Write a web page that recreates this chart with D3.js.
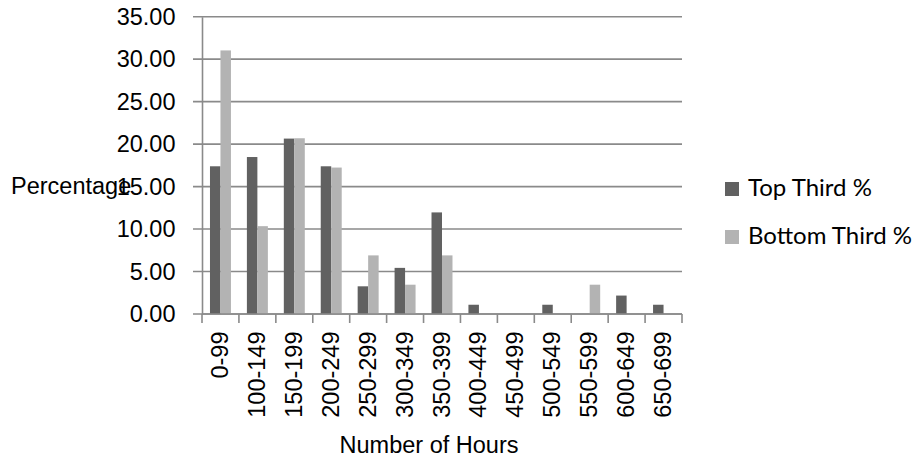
<!DOCTYPE html>
<html>
<head>
<meta charset="utf-8">
<script src="https://cdn.jsdelivr.net/npm/d3@7"></script>
<style>
  html, body { margin: 0; padding: 0; background: #fff; }
  svg { display: block; }
</style>
</head>
<body>
<svg id="chart" width="919" height="459"></svg>
<script>
// Hour bands on the x axis
const categories = ["0-99", "100-149", "150-199", "200-249", "250-299", "300-349",
  "350-399", "400-449", "450-499", "500-549", "550-599", "600-649", "650-699"];

// Percentage of each group falling in each band
const topThird = [17.39, 18.48, 20.65, 17.39, 3.26, 5.43, 11.96, 1.09, 0, 1.09, 0, 2.17, 1.09];
const bottomThird = [31.03, 10.34, 20.69, 17.24, 6.90, 3.45, 6.90, 0, 0, 0, 3.45, 0, 0];

const seriesNames = ["Top Third %", "Bottom Third %"];
const seriesColors = ["#616161", "#b3b3b3"];
const yTicks = [0, 5, 10, 15, 20, 25, 30, 35];

const svg = d3.select("#chart");
const axisFont = "'Liberation Sans', Arial, sans-serif";
const legendFont = "Lato, 'Open Sans', sans-serif";
const axisSize = 23.5;

const plot = { left: 202, right: 682, top: 16.7, bottom: 314 };

const x0 = d3.scaleBand().domain(categories).range([plot.left, plot.right]).padding(0);
const x1 = d3.scaleBand().domain(seriesNames).range([0, x0.bandwidth()])
  .paddingInner(0).paddingOuter(0.76);
const y = d3.scaleLinear().domain([0, 35]).range([plot.bottom, plot.top]);

const gridColor = "#8a8a8a";

// Horizontal gridlines with short outward ticks on the left
const grid = svg.append("g");
grid.selectAll("line").data(yTicks).join("line")
  .attr("x1", plot.left - 9).attr("x2", plot.right)
  .attr("y1", d => y(d)).attr("y2", d => y(d))
  .attr("stroke", gridColor).attr("stroke-width", 1.6);

// Bars
const rows = categories.map((c, i) => ({ cat: c, values: [topThird[i], bottomThird[i]] }));
const groups = svg.append("g").selectAll("g").data(rows).join("g")
  .attr("transform", d => `translate(${x0(d.cat)},0)`);
groups.selectAll("rect")
  .data(d => d.values.map((v, j) => ({ name: seriesNames[j], v, j })))
  .join("rect")
  .attr("x", d => x1(d.name))
  .attr("width", x1.bandwidth())
  .attr("y", d => y(d.v))
  .attr("height", d => y(0) - y(d.v))
  .attr("fill", d => seriesColors[d.j]);

// Y axis
const yAxis = d3.axisLeft(y).tickValues(yTicks).tickSize(0).tickPadding(26.5)
  .tickFormat(d3.format(".2f"));
const yg = svg.append("g").attr("transform", `translate(${plot.left},0)`).call(yAxis);
yg.select(".domain").attr("stroke", gridColor).attr("stroke-width", 1.6);
yg.selectAll("text").attr("font-family", axisFont).attr("font-size", axisSize).attr("fill", "#000");

// X axis with ticks on band boundaries
const xg = svg.append("g").attr("transform", `translate(0,${plot.bottom})`);
xg.append("line").attr("x1", plot.left).attr("x2", plot.right)
  .attr("stroke", gridColor).attr("stroke-width", 1.6);
const bounds = categories.map(c => x0(c)).concat([plot.right]);
xg.selectAll("line.tick").data(bounds).join("line").attr("class", "tick")
  .attr("x1", d => d).attr("x2", d => d).attr("y1", 0).attr("y2", 9)
  .attr("stroke", gridColor).attr("stroke-width", 1.6);
xg.selectAll("text").data(categories).join("text")
  .attr("transform", d => `translate(${x0(d) + x0.bandwidth() / 2 + 7.5},17.5) rotate(-90)`)
  .attr("text-anchor", "end")
  .attr("font-family", axisFont).attr("font-size", axisSize).attr("fill", "#000")
  .text(d => d);

// Axis titles
svg.append("text").attr("x", 11).attr("y", 194)
  .attr("font-family", axisFont).attr("font-size", axisSize).attr("fill", "#000")
  .text("Percentage");
svg.append("text").attr("x", 429).attr("y", 453).attr("text-anchor", "middle")
  .attr("font-family", axisFont).attr("font-size", axisSize).attr("fill", "#000")
  .text("Number of Hours");

// Legend
const legend = svg.append("g").selectAll("g").data(seriesNames).join("g")
  .attr("transform", (d, i) => `translate(725,${182 + i * 48})`);
legend.append("rect").attr("width", 14).attr("height", 14)
  .attr("fill", (d, i) => seriesColors[i]);
legend.append("text").attr("x", 23).attr("y", 13.5)
  .attr("font-family", legendFont).attr("font-size", 24).attr("fill", "#000")
  .text(d => d);
</script>
</body>
</html>
